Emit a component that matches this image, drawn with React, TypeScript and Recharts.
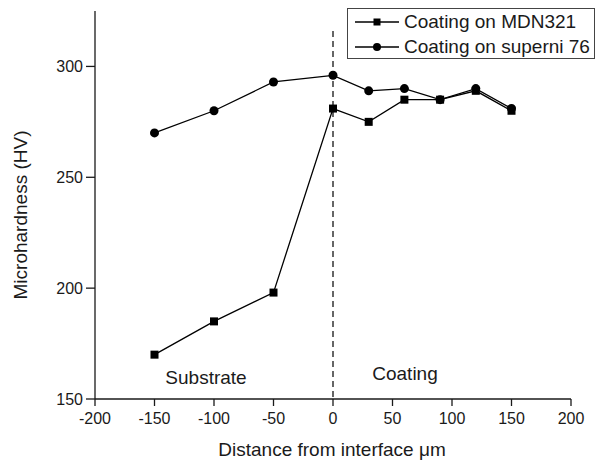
import { LineChart, Line, XAxis, YAxis, ReferenceLine } from "recharts";

const distance = [-150, -100, -50, 0, 30, 60, 90, 120, 150];
const mdn321 = [170, 185, 198, 281, 275, 285, 285, 289, 280];
const superni76 = [270, 280, 293, 296, 289, 290, 285, 290, 281];

const xTicks = [-200, -175, -150, -125, -100, -75, -50, -25, 0, 25, 50, 75, 100, 125, 150, 175, 200];
const xLabels = [-200, -150, -100, -50, 0, 50, 100, 150, 200];
const yTicks = [150, 175, 200, 225, 250, 275, 300, 325];
const yLabels = [150, 200, 250, 300];

const data = distance.map((d, i) => ({ x: d, mdn: mdn321[i], sup: superni76[i] }));

const FONT = "'Liberation Sans', Arial, sans-serif";
const INK = "#1a1a1a";
const tickLineStyle = { stroke: INK, strokeWidth: 1.3 };
const tickText = { fontSize: 16, fill: INK, fontFamily: FONT };

function SquareDot({ cx, cy, index }: any) {
  return <rect key={`sq-${index}`} x={cx - 4} y={cy - 4} width={8} height={8} fill="#000" />;
}

function CircleDot({ cx, cy, index }: any) {
  return <circle key={`ci-${index}`} cx={cx} cy={cy} r={4.5} fill="#000" />;
}

function LegendBox() {
  const rows = [
    { name: "Coating on MDN321", shape: "square" },
    { name: "Coating on superni 76", shape: "circle" },
  ];
  return (
    <div
      style={{
        position: "absolute",
        left: 347,
        top: 8,
        width: 246,
        height: 49,
        border: "1px solid #444",
        background: "#fff",
        fontFamily: FONT,
        fontSize: 19,
        color: INK,
      }}
    >
      {rows.map((r, i) => (
        <div
          key={r.name}
          style={{ position: "absolute", left: 6, top: 2 + i * 25, height: 22, display: "flex", alignItems: "center" }}
        >
          <svg width={46} height={22}>
            <line x1={1} x2={45} y1={11} y2={11} stroke="#000" strokeWidth={1.3} />
            {r.shape === "square" ? (
              <rect x={19.5} y={7.5} width={7} height={7} fill="#000" />
            ) : (
              <circle cx={23} cy={11} r={4} fill="#000" />
            )}
          </svg>
          <span style={{ marginLeft: 4, whiteSpace: "nowrap" }}>{r.name}</span>
        </div>
      ))}
    </div>
  );
}

export default function App() {
  return (
    <div style={{ position: "absolute", left: 0, top: 0, width: 595, height: 463, background: "#fff" }}>
      <LineChart width={595} height={463} data={data} margin={{ top: 11, right: 24, left: 0, bottom: 0 }}>
        {/* minor ticks, no labels, sit right on the plot edge */}
        <XAxis
          xAxisId="minor"
          dataKey="x"
          type="number"
          domain={[-200, 200]}
          ticks={xTicks}
          interval={0}
          tick={false}
          tickSize={4}
          tickLine={tickLineStyle}
          axisLine={false}
          height={0}
        />
        <XAxis
          xAxisId="major"
          dataKey="x"
          type="number"
          domain={[-200, 200]}
          ticks={xLabels}
          interval={0}
          tick={tickText}
          tickSize={7}
          tickMargin={7}
          tickLine={tickLineStyle}
          axisLine={tickLineStyle}
          height={64}
        />
        <YAxis
          yAxisId="minor"
          type="number"
          domain={[150, 325]}
          ticks={yTicks}
          interval={0}
          tick={false}
          tickSize={5}
          tickLine={tickLineStyle}
          axisLine={false}
          width={0}
        />
        <YAxis
          yAxisId="major"
          type="number"
          domain={[150, 325]}
          ticks={yLabels}
          interval={0}
          tick={tickText}
          tickSize={9}
          tickMargin={3}
          tickLine={tickLineStyle}
          axisLine={tickLineStyle}
          width={95}
        />
        <ReferenceLine
          xAxisId="major"
          yAxisId="major"
          segment={[
            { x: 0, y: 316 },
            { x: 0, y: 150 },
          ]}
          stroke="#000"
          strokeWidth={1.2}
          strokeDasharray="6 4"
        />
        <Line
          xAxisId="major"
          yAxisId="major"
          type="linear"
          dataKey="sup"
          stroke="#000"
          strokeWidth={1.3}
          dot={<CircleDot />}
          activeDot={false}
          isAnimationActive={false}
        />
        <Line
          xAxisId="major"
          yAxisId="major"
          type="linear"
          dataKey="mdn"
          stroke="#000"
          strokeWidth={1.3}
          dot={<SquareDot />}
          activeDot={false}
          isAnimationActive={false}
        />
        <text x={206} y={384} textAnchor="middle" fontSize={19} fontFamily={FONT} fill={INK}>
          Substrate
        </text>
        <text x={405} y={380} textAnchor="middle" fontSize={19} fontFamily={FONT} fill={INK}>
          Coating
        </text>
        <text x={332} y={456} textAnchor="middle" fontSize={19} fontFamily={FONT} fill={INK}>
          Distance from interface μm
        </text>
        <text
          x={0}
          y={0}
          transform="translate(27, 215) rotate(-90)"
          textAnchor="middle"
          fontSize={19}
          fontFamily={FONT}
          fill={INK}
        >
          Microhardness (HV)
        </text>
      </LineChart>
      <LegendBox />
    </div>
  );
}
